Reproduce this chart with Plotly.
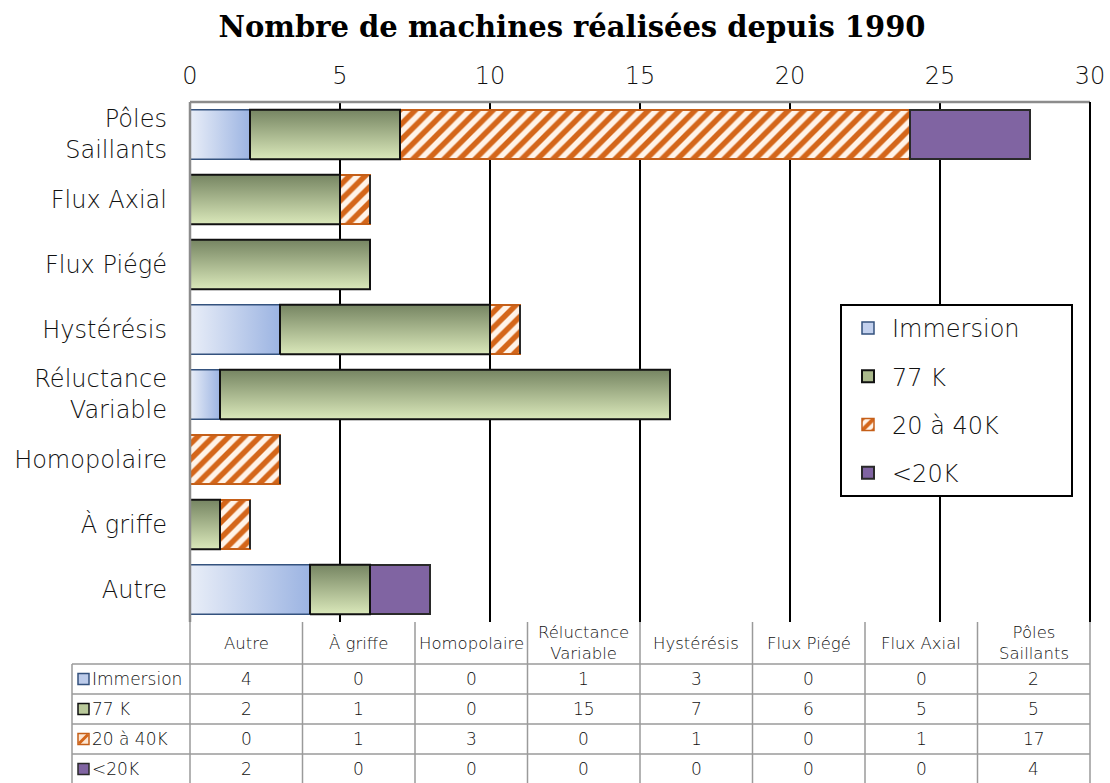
import plotly.graph_objects as go

# ---- data -------------------------------------------------------------
categories = ["Autre", "À griffe", "Homopolaire", "Réluctance Variable",
              "Hystérésis", "Flux Piégé", "Flux Axial", "Pôles Saillants"]
series_names = ["Immersion", "77 K", "20 à 40K", "<20K"]
immersion = [4, 0, 0, 1, 3, 0, 0, 2]
k77 = [2, 1, 0, 15, 7, 6, 5, 5]
k20_40 = [0, 1, 3, 0, 1, 0, 1, 17]
below20 = [2, 0, 0, 0, 0, 0, 0, 4]
x_ticks = [0, 5, 10, 15, 20, 25, 30]

series_values = [immersion, k77, k20_40, below20]

# ---- styling ------------------------------------------------------------
SANS = "'DejaVu Sans', sans-serif"
LIGHT = 200
TXT = "#111111"
BAR_W = 0.76

wrap = {"Pôles Saillants": "Pôles<br>Saillants",
        "Réluctance Variable": "Réluctance<br>Variable"}
tick_text = [wrap.get(c, c) for c in categories]
ypos = list(range(len(categories)))

styles = [
    dict(color="#c3d1ee", line="#34527e", lw=1.5),   # Immersion
    dict(color="#aab98c", line="#111111", lw=2),     # 77 K
    dict(color="#fff3e8", line="#c55f18", lw=1.5),   # 20 à 40K
    dict(color="#8064a2", line="#2a2a2a", lw=2),     # <20K
]

fig = go.Figure()

for k, (name, vals, st) in enumerate(zip(series_names, series_values, styles)):
    marker = dict(color=st["color"], line=dict(color=st["line"], width=st["lw"]))
    if k == 2:
        marker["pattern"] = dict(shape="/", fgcolor="#d4661a", bgcolor="#fff3e8",
                                 fgopacity=1, size=11, solidity=0.5)
    fig.add_trace(go.Bar(
        x=vals, y=ypos, orientation="h", name=name, width=BAR_W,
        marker=marker, legendgroup=name, hoverinfo="x+name",
    ))

# gradient overlays for the two shaded series (one polygon per segment)
cum = [0] * len(categories)
for k, vals in enumerate(series_values):
    for i, v in enumerate(vals):
        x0, x1 = cum[i], cum[i] + v
        if v > 0 and k in (0, 1):
            y0, y1 = ypos[i] - BAR_W / 2, ypos[i] + BAR_W / 2
            if k == 0:
                grad = dict(type="horizontal", start=x0, stop=x1,
                            colorscale=[[0, "#e9eef8"], [1, "#9cb4e2"]])
            else:
                grad = dict(type="vertical", start=y0, stop=y1,
                            colorscale=[[0, "#dae8ba"], [1, "#768562"]])
            fig.add_trace(go.Scatter(
                x=[x0, x1, x1, x0, x0], y=[y0, y0, y1, y1, y0],
                mode="lines", fill="toself", fillgradient=grad,
                line=dict(color=styles[k]["line"], width=styles[k]["lw"]),
                showlegend=False, hoverinfo="skip",
            ))
    cum = [c + v for c, v in zip(cum, vals)]

# ---- data table under the plot ----------------------------------------
# plot area: x 190..1090 px, y 102..622 px
L, R, T, B = 190, 20, 102, 161
PW, PH = 1110 - L - R, 783 - T - B


def px(xp):
    return (xp - L) / PW


def py(yp):
    return (783 - B - yp) / PH


shapes = []
annotations = []
grid_col = "#9a9a9a"
ncol = len(categories)
header_top, header_bot = 622, 664
row_h = 30
row_tops = [header_bot + r * row_h for r in range(len(series_names))]
table_bottom = row_tops[-1] + row_h
leg_left = 72


def line(x0, y0, x1, y1, color=grid_col, width=1.5):
    shapes.append(dict(type="line", xref="paper", yref="paper",
                       x0=px(x0), y0=py(y0), x1=px(x1), y1=py(y1),
                       line=dict(color=color, width=width), layer="above"))


# vertical column lines
for c in range(ncol + 1):
    xc = L + c * PW / ncol
    line(xc, header_top, xc, table_bottom)
line(leg_left, header_bot, leg_left, table_bottom)
# horizontal lines
for yr in row_tops + [table_bottom]:
    line(leg_left, yr, L + PW, yr)

# header labels
for c, cat in enumerate(categories):
    xc = L + (c + 0.5) * PW / ncol
    annotations.append(dict(
        x=px(xc), y=py((header_top + header_bot) / 2), xref="paper", yref="paper",
        text=wrap.get(cat, cat), showarrow=False, xanchor="center", yanchor="middle",
        font=dict(family=SANS, size=16.5, color=TXT, weight=LIGHT)))

# value rows with swatches
for r, (name, vals, st) in enumerate(zip(series_names, series_values, styles)):
    yc = row_tops[r] + row_h / 2
    for c, v in enumerate(vals):
        xc = L + (c + 0.5) * PW / ncol
        annotations.append(dict(
            x=px(xc), y=py(yc), xref="paper", yref="paper", text=str(v),
            showarrow=False, xanchor="center", yanchor="middle",
            font=dict(family=SANS, size=17, color=TXT, weight=LIGHT)))
    annotations.append(dict(
        x=px(90), y=py(yc), xref="paper", yref="paper", text=name,
        showarrow=False, xanchor="left", yanchor="middle",
        font=dict(family=SANS, size=17, color=TXT, weight=LIGHT)))
    sw = dict(type="rect", xref="paper", yref="paper",
              x0=px(78), x1=px(89), y0=py(yc - 5.5), y1=py(yc + 5.5),
              fillcolor=["#bccbea", "#b9c99a", "#fde6d2", "#8064a2"][r],
              line=dict(color=st["line"], width=1.5), layer="above")
    shapes.append(sw)
    if r == 2:
        line(79, yc + 4.5, 88, yc - 4.5, color="#d4661a", width=3)

# frame of the plot area: grey top/left, right side dark like the grid
shapes.append(dict(type="line", xref="paper", yref="paper", x0=0, x1=1, y0=1, y1=1,
                   line=dict(color="#8c8c8c", width=2.5), layer="above"))
shapes.append(dict(type="line", xref="paper", yref="paper", x0=0, x1=0, y0=0, y1=1,
                   line=dict(color="#8c8c8c", width=2.5), layer="above"))
shapes.append(dict(type="line", xref="paper", yref="paper", x0=1, x1=1, y0=0, y1=1,
                   line=dict(color="#000000", width=2), layer="above"))

# legend frame (white box that hides the grid behind the legend)
shapes.append(dict(type="rect", xref="paper", yref="paper",
                   x0=px(841), x1=px(1072), y0=py(496), y1=py(305),
                   fillcolor="white", line=dict(color="#000000", width=2),
                   layer="above"))

fig.update_layout(
    width=1110, height=783,
    margin=dict(l=L, r=R, t=T, b=B, autoexpand=False),
    paper_bgcolor="white", plot_bgcolor="white",
    barmode="stack",
    title=dict(text="<b>Nombre de machines réalisées depuis 1990</b>",
               x=572 / 1110, xanchor="center", y=1 - 27 / 783, yanchor="middle",
               font=dict(family="'DejaVu Serif', serif", size=29, color="#000")),
    xaxis=dict(side="top", range=[0, 30], tickvals=x_ticks, showgrid=True,
               gridcolor="#000000", gridwidth=1.5, zeroline=False, showline=False,
               automargin=False,
               tickfont=dict(family=SANS, size=24, color=TXT, weight=LIGHT),
               ticklabelstandoff=12),
    yaxis=dict(range=[-0.5, len(categories) - 0.5], tickvals=ypos, ticktext=tick_text,
               showgrid=False, zeroline=False, showline=False, automargin=False,
               tickfont=dict(family=SANS, size=24, color=TXT, weight=LIGHT),
               ticklabelstandoff=22),
    legend=dict(x=px(844), y=py(306), xanchor="left", yanchor="top",
                borderwidth=0, bgcolor="rgba(0,0,0,0)",
                font=dict(family=SANS, size=24, color=TXT, weight=LIGHT),
                tracegroupgap=14, itemwidth=38),
    shapes=shapes, annotations=annotations,
)

fig.write_html("out.html")
